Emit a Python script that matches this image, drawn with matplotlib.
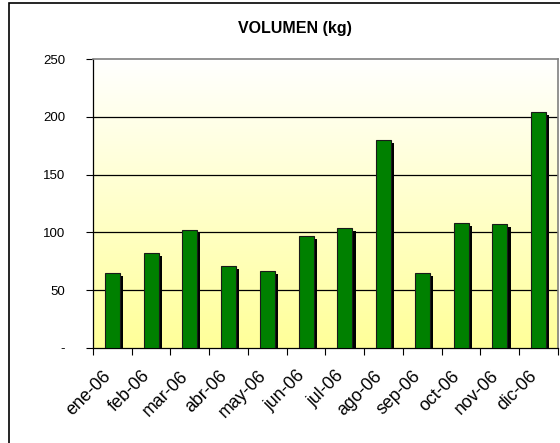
import numpy as np
import matplotlib
matplotlib.use('Agg')
import matplotlib.pyplot as plt
import matplotlib.transforms as mtrans
from matplotlib.patches import Rectangle

plt.rcParams['font.family'] = ['Liberation Sans', 'DejaVu Sans']

meses = ['ene-06', 'feb-06', 'mar-06', 'abr-06', 'may-06', 'jun-06',
         'jul-06', 'ago-06', 'sep-06', 'oct-06', 'nov-06', 'dic-06']
volumen = [65, 82, 102, 71, 67, 97, 104, 180, 65, 108, 107, 204]
yticks = [0, 50, 100, 150, 200, 250]
ylabels = ['-', '50', '100', '150', '200', '250']

fig = plt.figure(figsize=(5.6, 4.43), dpi=100)
ax = fig.add_axes([0.166, 0.2144, 0.8304, 0.6524])

x = np.arange(len(meses))
ax.set_xlim(-0.5, len(meses) - 0.5)

# fondo degradado amarillo (abajo) -> blanco (arriba)
grad = np.linspace(0, 1, 256).reshape(-1, 1)
cmap = matplotlib.colors.LinearSegmentedColormap.from_list('fondo', ['#ffff99', '#ffffff'])
ax.imshow(grad, aspect='auto', cmap=cmap, extent=(-0.5, len(meses) - 0.5, 0, 250),
          zorder=0, origin='lower')
ax.set_ylim(0, 250)

for y in yticks[1:-1]:
    ax.axhline(y, color='black', lw=0.9, zorder=1)

w = 0.39
# sombra
ax.bar(x + 0.08, np.array(volumen) - 2.6, width=w, color='black', zorder=2)
ax.bar(x, volumen, width=w, color='#008000', edgecolor='#1a1a1a', lw=0.8, zorder=3)

ax.set_yticks(yticks)
ax.set_yticklabels(ylabels, fontsize=9.5)
ax.tick_params(axis='y', length=5, width=0.8, pad=15)

ax.set_xticks(x)
ax.set_xticklabels(meses, fontsize=12.8, rotation=45, ha='right', rotation_mode='anchor')
ax.tick_params(axis='x', length=0, pad=14)
off = mtrans.ScaledTranslation(-10 / 100, 0, fig.dpi_scale_trans)
for lab in ax.get_xticklabels():
    lab.set_transform(lab.get_transform() + off)
ax.set_xticks(np.arange(-0.5, len(meses)), minor=True)
ax.tick_params(axis='x', which='minor', length=5, width=0.8, direction='out')

for s in ['top', 'right']:
    ax.spines[s].set_color('#808080')
    ax.spines[s].set_linewidth(1.2)
ax.spines['left'].set_color('black')
ax.spines['bottom'].set_color('black')
ax.spines['left'].set_linewidth(0.9)
ax.spines['bottom'].set_linewidth(0.9)

fig.text(295 / 560, 1 - 29 / 443, 'VOLUMEN (kg)', fontsize=11.5, fontweight='bold',
         ha='center', va='center')

fig.patches.append(Rectangle((9 / 560, -0.1), 1.2, 1 - 3 / 443 + 0.1, transform=fig.transFigure,
                             fill=False, edgecolor='black', lw=1.2))

fig.savefig('out.png', dpi=100)
